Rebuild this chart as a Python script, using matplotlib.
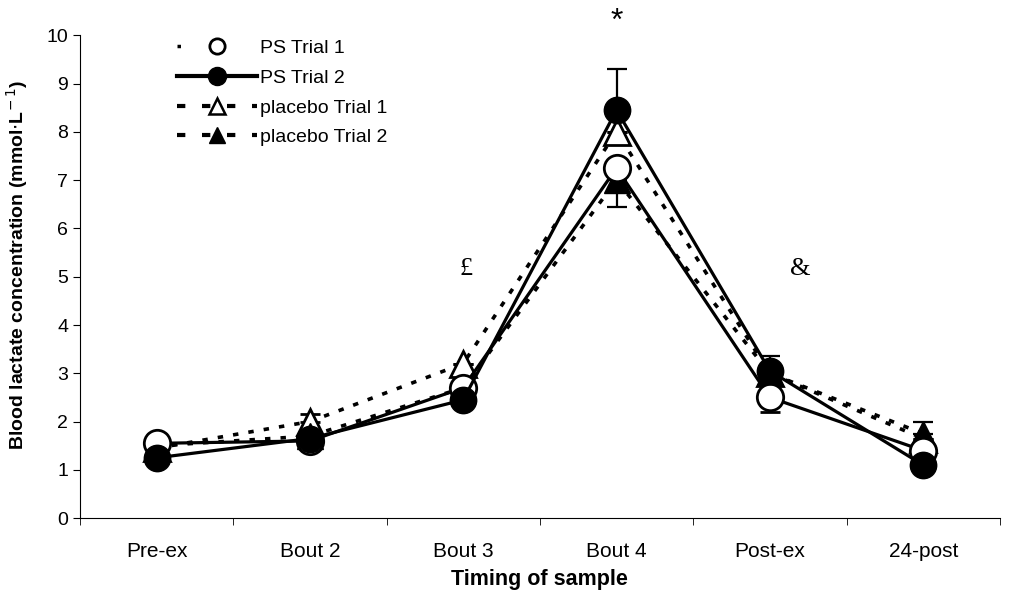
import numpy as np
import matplotlib.pyplot as plt
from matplotlib.lines import Line2D

plt.rcParams['font.family'] = ['Liberation Sans', 'DejaVu Sans']

timepoints = ['Pre-ex', 'Bout 2', 'Bout 3', 'Bout 4', 'Post-ex', '24-post']

ps_trial1 = [1.55, 1.6, 2.7, 7.25, 2.5, 1.4]
ps_trial2 = [1.25, 1.65, 2.45, 8.45, 3.05, 1.1]
placebo_trial1 = [1.45, 2.0, 3.2, 8.0, 3.0, 1.65]
placebo_trial2 = [1.5, 1.7, 2.7, 7.0, 3.0, 1.75]

# one-sided error bars (lower, upper)
ps1_err_lo = [0, 0, 0, 0, 0.3, 0]
ps1_err_hi = [0, 0, 0, 0, 0, 0]
ps2_err_lo = [0, 0, 0, 0, 0, 0]
ps2_err_hi = [0, 0, 0, 0.85, 0.3, 0]
pl1_err_lo = [0, 0, 0, 0, 0, 0]
pl1_err_hi = [0.3, 0.15, 0, 0, 0, 0]
pl2_err_lo = [0, 0, 0, 0.55, 0, 0]
pl2_err_hi = [0, 0, 0, 0, 0, 0.25]

x = np.arange(len(timepoints)) + 0.5

fig = plt.figure(figsize=(10.11, 5.97), dpi=100)
ax = fig.add_axes([0.079, 0.132, 0.91, 0.809])

ms = 19
dash = (0, (1.5, 2.8))

ax.errorbar(x, placebo_trial1, yerr=[pl1_err_lo, pl1_err_hi], color='black', lw=2.6,
            linestyle=dash, marker='^', mfc='white', mec='black', mew=2, ms=ms,
            capsize=7, elinewidth=1.6, capthick=1.6, zorder=3)
ax.errorbar(x, placebo_trial2, yerr=[pl2_err_lo, pl2_err_hi], color='black', lw=2.6,
            linestyle=dash, marker='^', mfc='black', mec='black', ms=ms,
            capsize=7, elinewidth=1.6, capthick=1.6, zorder=4)
ax.errorbar(x, ps_trial1, yerr=[ps1_err_lo, ps1_err_hi], color='black', lw=2.3,
            linestyle='-', marker='o', mfc='white', mec='black', mew=2, ms=ms,
            capsize=7, elinewidth=1.6, capthick=1.6, zorder=5)
ax.errorbar(x, ps_trial2, yerr=[ps2_err_lo, ps2_err_hi], color='black', lw=2.3,
            linestyle='-', marker='o', mfc='black', mec='black', ms=ms,
            capsize=7, elinewidth=1.6, capthick=1.6, zorder=6)

ax.set_xlim(0, len(timepoints))
ax.set_ylim(0, 10)
ax.set_yticks(range(0, 11))
ax.set_xticks(x)
ax.set_xticklabels(timepoints, fontsize=15)
ax.set_xticks(np.arange(0, len(timepoints) + 1), minor=True)
ax.tick_params(axis='x', which='major', length=0, pad=17)
ax.tick_params(axis='x', which='minor', length=5, direction='out')
ax.tick_params(axis='y', length=5, direction='out', labelsize=14)
for s in ['top', 'right']:
    ax.spines[s].set_visible(False)

ax.set_xlabel('Timing of sample', fontsize=15.5, fontweight='bold', labelpad=6)
ax.set_ylabel('Blood lactate concentration (mmol$\\cdot$L$^{\\!-1}$)', fontsize=14,
              fontweight='bold')
ax.yaxis.set_label_coords(-0.054, 0.525)

# significance markers
ax.text(x[3], 10.27, '*', fontsize=23, ha='center', va='center', clip_on=False)
ax.text(x[2] + 0.02, 5.15, '£', fontsize=19, ha='center', va='center', family='Liberation Serif')
ax.text(x[4] + 0.2, 5.15, '&', fontsize=19, ha='center', va='center', family='Liberation Serif')

handles = [
    Line2D([], [], color='black', lw=2.5, linestyle=(0, (1, 100)), marker='o', mfc='white',
           mec='black', mew=2, ms=11),
    Line2D([], [], color='black', lw=3, linestyle='-', marker='o', mfc='black', ms=13),
    Line2D([], [], color='black', lw=3, linestyle=(0, (2, 4)), marker='^', mfc='white',
           mec='black', mew=1.8, ms=11),
    Line2D([], [], color='black', lw=3, linestyle=(0, (2, 4)), marker='^', mfc='black', ms=11),
]
labels = ['PS Trial 1', 'PS Trial 2', 'placebo Trial 1', 'placebo Trial 2']
ax.legend(handles, labels, loc='upper left', bbox_to_anchor=(0.087, 1.027), frameon=False,
          fontsize=14, handlelength=4.1, handletextpad=0.15, labelspacing=0.62)

fig.savefig('out.png', dpi=100)
